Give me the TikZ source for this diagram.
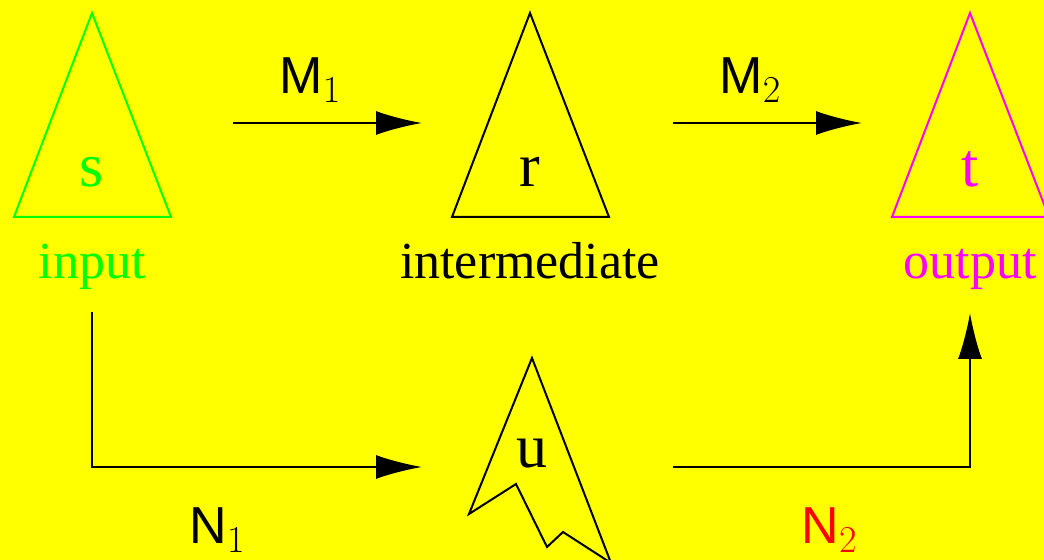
\RequirePackage{fix-cm}
\documentclass[tikz,border=0pt]{standalone}
\usepackage{fontspec}
\setmainfont{Liberation Serif}
\setsansfont{Liberation Sans}
\usetikzlibrary{arrows.meta}

\definecolor{bgyellow}{RGB}{255,255,0}
\definecolor{ingreen}{RGB}{0,255,0}
\definecolor{outmagenta}{RGB}{255,0,255}
\definecolor{mapred}{RGB}{255,0,0}

\newcommand{\mapidx}[1]{\raisebox{-4.5pt}{\fontsize{19}{20}\selectfont$#1$}}

\tikzset{
  letter/.style={anchor=base, font=\fontsize{31}{36}\selectfont},
  label/.style={anchor=base, font=\fontsize{26}{30}\selectfont},
  map/.style={anchor=base, font=\fontsize{26}{30}\selectfont}
}

\begin{document}
\begin{tikzpicture}[x=0.5pt, y=-0.5pt, >={Latex[length=23pt,width=12pt]}, line width=1pt]

% Background
\path[use as bounding box, fill=bgyellow] (0,0) rectangle (1044,560);

% Triangles
\foreach \cx/\col in {92/ingreen,530/black,970/outmagenta} {
    \draw[\col] (\cx,13) -- (\cx+79,217) -- (\cx-78,217) -- cycle;
}

% Broken shape
\draw (532,358) -- (611,563) -- (563,532) -- (547,547) -- (516,484) -- (469,514) -- cycle;

% Letters inside
\node[letter, ingreen] (s) at (92,187) {s};
\node[letter] (r) at (530,187) {r};
\node[letter, outmagenta] (t) at (970,187) {t};
\node[letter] (u) at (532,468) {u};

% Names
\node[label, ingreen] (in) at (92,279) {input};
\node[label] (mid) at (530,279) {intermediate};
\node[label, outmagenta] (out) at (970,279) {output};

% Arrow ends
\coordinate (m1s) at (233,123);
\coordinate (m1e) at (422,123);
\coordinate (m2s) at (673,123);
\coordinate (m2e) at (862,123);
\coordinate (n1s) at (92,312);
\coordinate (n1e) at (422,467);
\coordinate (n2s) at (673,467);
\coordinate (n2e) at (970,313);

% Maps
\draw[->] (m1s) -- (m1e);
\draw[->] (m2s) -- (m2e);
\draw[->] (n1s) |- (n1e);
\draw[->] (n2s) -| (n2e);

% Map labels
\node[map] (M1) at (310,94) {\textsf{M}\mapidx{1}};
\node[map] (M2) at (750,94) {\textsf{M}\mapidx{2}};
\node[map] (N1) at (217,544) {\textsf{N}\mapidx{1}};
\node[map, mapred] (N2) at (829,544) {\textsf{N}\mapidx{2}};
\end{tikzpicture}
\end{document}
